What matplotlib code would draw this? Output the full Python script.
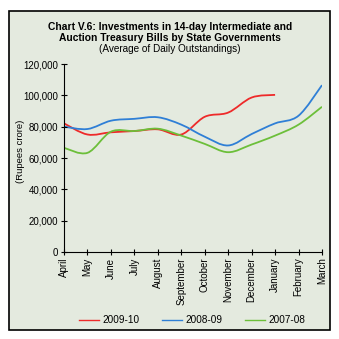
import numpy as np
import matplotlib
matplotlib.use("Agg")
import matplotlib.pyplot as plt
from matplotlib.path import Path
from matplotlib.patches import PathPatch, Rectangle
from matplotlib.lines import Line2D

months = ["April", "May", "June", "July", "August", "September", "October",
          "November", "December", "January", "February", "March"]
s2009_10 = [82100, 75000, 76400, 77200, 78300, 75000, 86300, 89000, 98600, 100300]
s2008_09 = [80000, 78500, 83800, 85000, 86000, 81300, 73600, 68000, 75300, 82100, 87000, 106500]
s2007_08 = [66500, 63300, 76800, 77200, 78700, 74300, 69000, 63700, 68600, 74300, 81300, 92700]
yticks = [0, 20000, 40000, 60000, 80000, 100000, 120000]

plt.rcParams['font.family'] = ['Liberation Sans', 'DejaVu Sans']

fig = plt.figure(figsize=(3.39, 3.39), dpi=100)
fig.patch.set_facecolor('white')
bgax = fig.add_axes([0, 0, 1, 1], zorder=-5)
bgax.set_axis_off()
bgax.set_xlim(0, 339)
bgax.set_ylim(339, 0)
bgax.add_patch(Rectangle((9, 11), 321, 319, facecolor='#e4eadf',
                         edgecolor='black', linewidth=1.2))

ax = fig.add_axes([64/339, 1 - 252/339, 258/339, 188/339], zorder=1)
ax.set_facecolor('none')


def smooth_path(y):
    x = np.arange(len(y), dtype=float)
    y = np.asarray(y, dtype=float)
    pts = np.column_stack([x, y])
    verts = [pts[0]]
    codes = [Path.MOVETO]
    n = len(pts)
    for i in range(n - 1):
        p0 = pts[i - 1] if i > 0 else pts[i]
        p1 = pts[i]
        p2 = pts[i + 1]
        p3 = pts[i + 2] if i + 2 < n else pts[i + 1]
        c1 = p1 + (p2 - p0) / 6.0
        c2 = p2 - (p3 - p1) / 6.0
        verts += [c1, c2, p2]
        codes += [Path.CURVE4] * 3
    return Path(verts, codes)


for data, col, lab in [(s2009_10, '#ee2a2a', '2009-10'),
                       (s2008_09, '#2f7fd6', '2008-09'),
                       (s2007_08, '#6cbf3a', '2007-08')]:
    ax.add_patch(PathPatch(smooth_path(data), facecolor='none', edgecolor=col,
                           linewidth=1.3))

ax.set_xlim(0, 11)
ax.set_ylim(0, 120000)
ax.set_yticks(yticks)
ax.set_yticklabels([f"{v:,}" for v in yticks], fontsize=7)
ax.set_xticks(range(12))
ax.set_xticklabels(months, rotation=90, fontsize=7)
for sp in ['top', 'right']:
    ax.spines[sp].set_visible(False)
ax.tick_params(axis='both', direction='inout', length=4, width=0.8, pad=2)
ax.set_ylabel("(Rupees crore)", fontsize=6.8)
ax.yaxis.set_label_coords(-0.15, (252 - 151) / 188)

fig.text(170/339, 1 - 27/339, "Chart V.6: Investments in 14-day Intermediate and",
         ha='center', va='center', fontsize=7.4, fontweight='bold')
fig.text(170/339, 1 - 38/339, "Auction Treasury Bills by State Governments",
         ha='center', va='center', fontsize=7.4, fontweight='bold')
fig.text(170/339, 1 - 49/339, "(Average of Daily Outstandings)",
         ha='center', va='center', fontsize=7.2)

handles = [Line2D([], [], color='#ee2a2a', lw=1),
           Line2D([], [], color='#2f7fd6', lw=1),
           Line2D([], [], color='#6cbf3a', lw=1)]
fig.legend(handles, ['2009-10', '2008-09', '2007-08'], loc='center',
           bbox_to_anchor=(192/339, 1 - 320/339), ncol=3, frameon=False,
           fontsize=7.2, handlelength=2.0, columnspacing=2.2, handletextpad=0.4)

fig.savefig("out.png", dpi=100, facecolor='white')
